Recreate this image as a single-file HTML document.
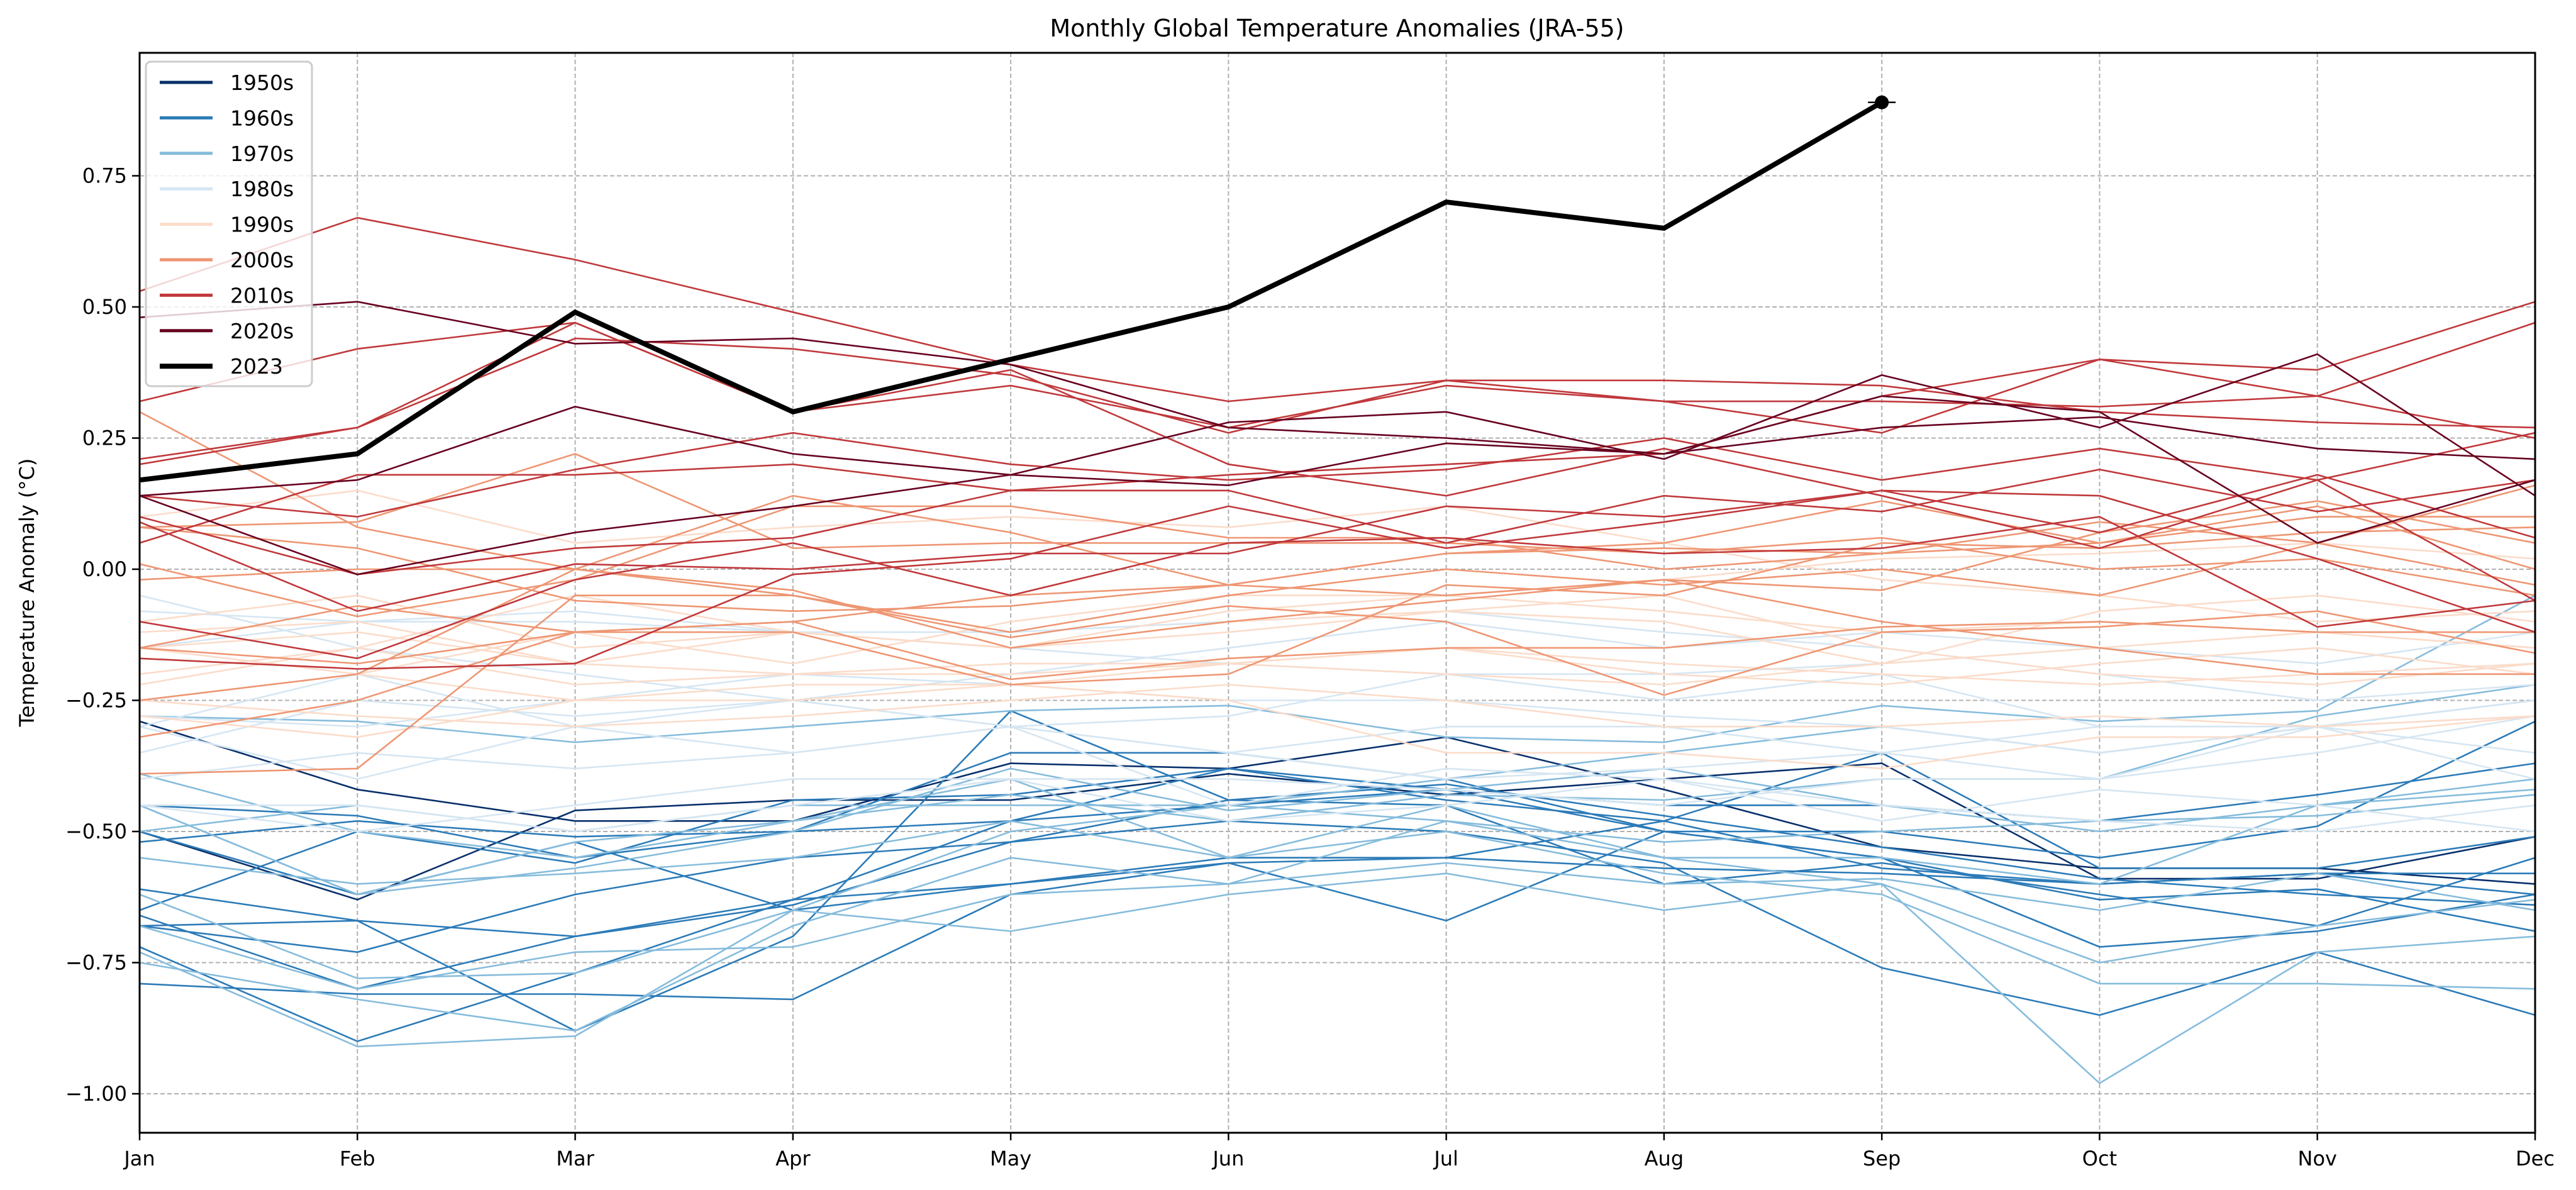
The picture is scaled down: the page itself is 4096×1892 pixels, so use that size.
<!DOCTYPE html>
<html><head><meta charset="utf-8">
<style>
html,body{margin:0;padding:0;background:#fff;}
svg{display:block;font-family:"DejaVu Sans","Liberation Sans",sans-serif;}
</style></head>
<body>
<svg id="chart" width="4096" height="1892" viewBox="0 0 4096 1892" xmlns="http://www.w3.org/2000/svg">
<rect x="0" y="0" width="4096" height="1892" fill="#fff"/>
<text x="2126" y="58" font-size="38" text-anchor="middle">Monthly Global Temperature Anomalies (JRA-55)</text>
<text transform="translate(54,942) rotate(-90)" font-size="32" text-anchor="middle">Temperature Anomaly (°C)</text>
<g id="grid"></g>
<g id="series"></g>
<g id="axes"></g>
<g id="legend"></g>
</svg>
<script>
const months = ["Jan","Feb","Mar","Apr","May","Jun","Jul","Aug","Sep","Oct","Nov","Dec"];
const yTicks = [-1.00,-0.75,-0.50,-0.25,0.00,0.25,0.50,0.75];
const decades = ["1950s","1960s","1970s","1980s","1990s","2000s","2010s","2020s"];
const decadeColors = ["#08306b","#2c7bb8","#86bcdc","#d6e6f2","#fbdcca","#ee9673","#c0383b","#67001f"];
const years = [1958,1959,1960,1961,1962,1963,1964,1965,1966,1967,1968,1969,1970,1971,1972,1973,1974,1975,1976,1977,1978,1979,1980,1981,1982,1983,1984,1985,1986,1987,1988,1989,1990,1991,1992,1993,1994,1995,1996,1997,1998,1999,2000,2001,2002,2003,2004,2005,2006,2007,2008,2009,2010,2011,2012,2013,2014,2015,2016,2017,2018,2019,2020,2021,2022];
const values = [
[-0.29,-0.42,-0.48,-0.48,-0.37,-0.38,-0.32,-0.42,-0.53,-0.57,-0.57,-0.60],
[-0.50,-0.63,-0.46,-0.44,-0.44,-0.39,-0.43,-0.40,-0.37,-0.59,-0.59,-0.51],
[-0.50,-0.62,-0.52,-0.65,-0.60,-0.55,-0.55,-0.48,-0.57,-0.60,-0.58,-0.58],
[-0.45,-0.47,-0.55,-0.50,-0.48,-0.45,-0.42,-0.45,-0.45,-0.48,-0.43,-0.37],
[-0.61,-0.67,-0.70,-0.63,-0.60,-0.56,-0.55,-0.57,-0.58,-0.60,-0.58,-0.62],
[-0.66,-0.80,-0.70,-0.64,-0.52,-0.44,-0.41,-0.47,-0.53,-0.59,-0.62,-0.64],
[-0.68,-0.73,-0.62,-0.55,-0.52,-0.48,-0.50,-0.56,-0.76,-0.85,-0.73,-0.85],
[-0.72,-0.90,-0.77,-0.63,-0.48,-0.38,-0.42,-0.50,-0.55,-0.72,-0.69,-0.62],
[-0.79,-0.81,-0.81,-0.82,-0.62,-0.56,-0.67,-0.50,-0.55,-0.63,-0.61,-0.69],
[-0.68,-0.67,-0.88,-0.70,-0.27,-0.44,-0.45,-0.60,-0.56,-0.62,-0.68,-0.55],
[-0.65,-0.50,-0.56,-0.44,-0.43,-0.38,-0.44,-0.48,-0.35,-0.57,-0.57,-0.51],
[-0.52,-0.48,-0.51,-0.50,-0.35,-0.35,-0.40,-0.50,-0.50,-0.55,-0.49,-0.29],
[-0.39,-0.50,-0.55,-0.48,-0.40,-0.55,-0.45,-0.55,-0.55,-0.60,-0.45,-0.42],
[-0.62,-0.78,-0.77,-0.65,-0.69,-0.62,-0.58,-0.65,-0.60,-0.98,-0.73,-0.70],
[-0.73,-0.91,-0.89,-0.65,-0.50,-0.45,-0.40,-0.35,-0.30,-0.35,-0.30,-0.25],
[-0.28,-0.29,-0.33,-0.30,-0.27,-0.26,-0.32,-0.33,-0.26,-0.29,-0.27,-0.05],
[-0.75,-0.82,-0.88,-0.68,-0.55,-0.60,-0.48,-0.55,-0.60,-0.75,-0.68,-0.63],
[-0.55,-0.60,-0.58,-0.55,-0.48,-0.55,-0.50,-0.58,-0.62,-0.79,-0.79,-0.80],
[-0.68,-0.80,-0.73,-0.72,-0.62,-0.60,-0.56,-0.60,-0.59,-0.65,-0.58,-0.65],
[-0.45,-0.62,-0.57,-0.50,-0.38,-0.46,-0.42,-0.38,-0.45,-0.50,-0.45,-0.40],
[-0.50,-0.45,-0.50,-0.45,-0.45,-0.45,-0.48,-0.52,-0.50,-0.48,-0.47,-0.43],
[-0.45,-0.62,-0.52,-0.48,-0.43,-0.48,-0.43,-0.44,-0.40,-0.40,-0.28,-0.22],
[-0.28,-0.30,-0.25,-0.20,-0.22,-0.25,-0.25,-0.28,-0.30,-0.35,-0.30,-0.35],
[-0.05,-0.15,-0.20,-0.25,-0.30,-0.35,-0.30,-0.30,-0.35,-0.40,-0.35,-0.28],
[-0.45,-0.45,-0.50,-0.45,-0.40,-0.40,-0.42,-0.45,-0.40,-0.40,-0.30,-0.25],
[-0.15,-0.10,-0.10,-0.12,-0.15,-0.18,-0.20,-0.25,-0.20,-0.30,-0.30,-0.40],
[-0.30,-0.40,-0.30,-0.35,-0.30,-0.45,-0.38,-0.40,-0.48,-0.42,-0.45,-0.50],
[-0.45,-0.50,-0.45,-0.40,-0.40,-0.48,-0.45,-0.40,-0.45,-0.48,-0.50,-0.45],
[-0.40,-0.35,-0.38,-0.35,-0.30,-0.35,-0.40,-0.38,-0.35,-0.30,-0.30,-0.28],
[-0.30,-0.20,-0.30,-0.25,-0.20,-0.15,-0.10,-0.15,-0.12,-0.15,-0.18,-0.12],
[-0.08,-0.10,-0.08,-0.12,-0.12,-0.10,-0.08,-0.12,-0.15,-0.20,-0.25,-0.22],
[-0.35,-0.25,-0.28,-0.25,-0.30,-0.28,-0.20,-0.20,-0.18,-0.15,-0.20,-0.18],
[-0.20,-0.15,-0.05,-0.12,-0.15,-0.12,-0.08,-0.10,-0.18,-0.08,-0.05,-0.10],
[-0.12,-0.10,-0.18,-0.12,-0.15,-0.10,-0.08,-0.05,-0.15,-0.20,-0.22,-0.18],
[-0.15,-0.20,-0.25,-0.22,-0.22,-0.25,-0.35,-0.35,-0.38,-0.32,-0.32,-0.28],
[-0.25,-0.28,-0.30,-0.28,-0.25,-0.22,-0.25,-0.30,-0.30,-0.28,-0.30,-0.28],
[-0.28,-0.32,-0.25,-0.25,-0.22,-0.18,-0.20,-0.22,-0.18,-0.15,-0.12,-0.15],
[-0.10,-0.05,-0.15,-0.12,-0.15,-0.08,-0.05,-0.08,-0.12,-0.10,-0.12,-0.15],
[-0.22,-0.15,-0.22,-0.20,-0.18,-0.18,-0.15,-0.18,-0.20,-0.22,-0.20,-0.18],
[-0.25,-0.20,-0.12,-0.18,-0.10,-0.05,-0.05,-0.02,0.02,0.03,0.05,0.02],
[0.10,0.15,0.05,0.08,0.10,0.08,0.12,0.05,-0.02,-0.05,-0.10,-0.08],
[-0.15,-0.12,-0.18,-0.20,-0.20,-0.18,-0.15,-0.20,-0.22,-0.18,-0.15,-0.20],
[-0.32,-0.25,-0.12,-0.10,-0.21,-0.17,-0.15,-0.15,-0.11,-0.10,-0.12,-0.12],
[-0.25,-0.20,0.00,-0.05,-0.12,-0.05,0.00,-0.03,0.00,-0.05,0.05,-0.03],
[0.08,0.09,0.22,0.04,0.05,0.05,0.05,0.03,0.06,0.00,0.02,-0.05],
[0.08,0.04,-0.06,-0.08,-0.07,-0.03,0.03,0.04,0.03,0.09,0.05,0.16],
[-0.02,0.00,0.00,-0.04,-0.15,-0.10,-0.06,-0.02,-0.04,0.07,0.13,0.05],
[0.01,-0.09,-0.02,0.12,0.12,0.06,0.06,0.00,0.03,0.05,0.12,0.00],
[-0.15,-0.07,-0.12,-0.12,-0.22,-0.20,-0.03,-0.05,0.05,0.04,0.07,0.08],
[0.30,0.08,0.00,0.14,0.07,-0.03,-0.05,-0.02,-0.10,-0.15,-0.20,-0.20],
[-0.39,-0.38,-0.05,-0.05,-0.13,-0.07,-0.10,-0.24,-0.12,-0.11,-0.08,-0.16],
[-0.15,-0.18,-0.12,-0.10,-0.05,-0.03,0.03,0.05,0.13,0.05,0.10,0.10],
[0.20,0.27,0.47,0.30,0.38,0.20,0.14,0.23,0.14,0.04,0.17,-0.06],
[-0.10,-0.17,-0.02,0.05,-0.05,0.05,0.06,0.03,0.04,0.10,-0.11,-0.06],
[-0.17,-0.19,-0.18,-0.01,0.02,0.12,0.04,0.09,0.15,0.14,0.02,-0.12],
[0.09,-0.08,0.01,0.00,0.03,0.03,0.12,0.10,0.15,0.07,0.18,0.06],
[0.05,0.18,0.18,0.20,0.15,0.15,0.05,0.14,0.11,0.19,0.11,0.17],
[0.10,-0.01,0.04,0.06,0.15,0.18,0.20,0.22,0.33,0.40,0.38,0.51],
[0.53,0.67,0.59,0.49,0.39,0.32,0.36,0.36,0.35,0.30,0.28,0.27],
[0.32,0.42,0.47,0.30,0.35,0.27,0.35,0.32,0.26,0.40,0.33,0.47],
[0.14,0.10,0.19,0.26,0.20,0.17,0.19,0.25,0.17,0.23,0.17,0.26],
[0.21,0.27,0.44,0.42,0.37,0.26,0.36,0.32,0.32,0.31,0.33,0.25],
[0.48,0.51,0.43,0.44,0.39,0.27,0.25,0.22,0.33,0.30,0.05,0.17],
[0.14,-0.01,0.07,0.12,0.18,0.28,0.30,0.21,0.37,0.27,0.41,0.14],
[0.14,0.17,0.31,0.22,0.18,0.16,0.24,0.22,0.27,0.29,0.23,0.21]
];
const values2023 = [0.17,0.22,0.49,0.30,0.40,0.50,0.70,0.65,0.89];

const NS = "http://www.w3.org/2000/svg";
const X0 = 222, X1 = 4031, YT = 84, YB = 1801;
function xScale(i){ return X0 + i*(X1-X0)/11; }
function yScale(v){ return 1739 - (v+1)*834; }
function mk(tag, attrs, parent){
  const e = document.createElementNS(NS, tag);
  for (const k in attrs) e.setAttribute(k, attrs[k]);
  parent.appendChild(e); return e;
}
const grid = document.getElementById('grid');
const axes = document.getElementById('axes');
const series = document.getElementById('series');
const legend = document.getElementById('legend');

months.forEach((m,i)=>{
  const x = xScale(i);
  const g = mk('line',{x1:x,x2:x,y1:YT,y2:YB,stroke:'#b0b0b0','stroke-width':2,'stroke-dasharray':'7,4'},grid);
  
  
  const t = mk('line',{x1:x,x2:x,y1:YB,y2:YB+12,stroke:'#000','stroke-width':2.5},axes);
  
  
  const lb = mk('text',{x:x,y:YB+52,'font-size':32,'text-anchor':'middle'},axes);
  lb.textContent = m;
  
  
});
yTicks.forEach(v=>{
  const y = yScale(v);
  const g = mk('line',{x1:X0,x2:X1,y1:y,y2:y,stroke:'#b0b0b0','stroke-width':2,'stroke-dasharray':'7,4'},grid);
  
  
  const t = mk('line',{x1:X0-12,x2:X0,y1:y,y2:y,stroke:'#000','stroke-width':2.5},axes);
  
  
  const lb = mk('text',{x:X0-20,y:y+11,'font-size':32,'text-anchor':'end'},axes);
  lb.textContent = (v<0?'\u2212':'') + Math.abs(v).toFixed(2);
  
  
});

years.forEach((yr,k)=>{
  const d = Math.floor((yr-1950)/10);
  const pts = values[k].map((v,i)=>xScale(i).toFixed(1)+','+yScale(v).toFixed(1)).join(' ');
  const p = mk('polyline',{points:pts,fill:'none',stroke:decadeColors[d],'stroke-width':2.6,'stroke-linejoin':'miter'},series);
  
  
});
const pts23 = values2023.map((v,i)=>xScale(i).toFixed(1)+','+yScale(v).toFixed(1)).join(' ');
const l23 = mk('polyline',{points:pts23,fill:'none',stroke:'#000','stroke-width':8,'stroke-linejoin':'miter'},series);


const last = values2023.length-1;
const dot = mk('circle',{cx:xScale(last),cy:yScale(values2023[last]),r:11,fill:'#000'},series);


const tail = mk('line',{x1:xScale(last)-22,x2:xScale(last)+22,y1:yScale(values2023[last]),y2:yScale(values2023[last]),stroke:'#000','stroke-width':2.5},series);



const frame = mk('rect',{x:X0,y:YT,width:X1-X0,height:YB-YT,fill:'none',stroke:'#000','stroke-width':3},axes);



const lbox = mk('rect',{x:232,y:98,width:264,height:516,rx:8,fill:'#fff','fill-opacity':0.8,stroke:'#cccccc','stroke-width':3},legend);


const legLabels = decades.concat(["2023"]);
const legColors = decadeColors.concat(["#000"]);
legLabels.forEach((lab,i)=>{
  const y = 131 + i*56.4;
  const ln = mk('line',{x1:254,x2:338,y1:y,y2:y,stroke:legColors[i],'stroke-width':i===8?8:5},legend);
  
  
  const t = mk('text',{x:366,y:y+12,'font-size':33},legend);
  t.textContent = lab;
  
  
});
</script>
</body></html>
